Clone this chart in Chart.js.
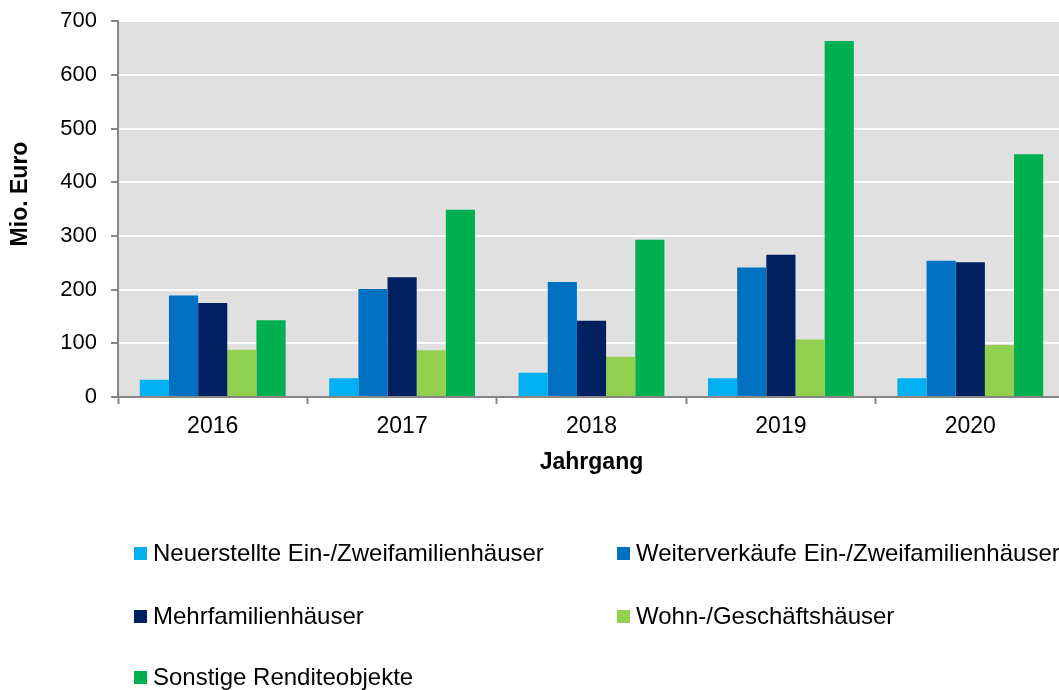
<!DOCTYPE html>
<html>
<head>
<meta charset="utf-8">
<script src="https://cdn.jsdelivr.net/npm/chart.js@4/dist/chart.umd.min.js"></script>
<style>
    html, body { margin: 0; padding: 0; background: #fff; overflow: hidden; }
    body { width: 1059px; height: 690px; position: relative; font-family: "Liberation Sans", Arial, sans-serif; }
    #wrap { position: absolute; left: 0; top: -6px; width: 1065px; height: 496px; }
    #legend { position: absolute; left: 0; top: 0; width: 1059px; height: 690px; pointer-events: none; }
    .item { position: absolute; font-size: 24px; color: #000; white-space: nowrap; line-height: 28px; }
    .item i { display: inline-block; width: 13px; height: 13px; margin-right: 6px; vertical-align: 1px; }
    #ytitle { position: absolute; left: 19px; top: 194px; font-size: 23px; font-weight: bold; color: #000;
              white-space: nowrap; transform: translate(-50%, -50%) rotate(-90deg); line-height: 26px; }
</style>
</head>
<body>
<div id="wrap"><canvas id="kaufChart"></canvas></div>
<div id="ytitle">Mio. Euro</div>
<div id="legend"></div>
<script>
// Daten
const jahre = ['2016', '2017', '2018', '2019', '2020'];
const neuerstellteEZFH = [32, 35, 45, 35, 35];
const weiterverkaufEZFH = [189, 201, 214, 241, 254];
const mehrfamilienhaeuser = [175, 223, 142, 265, 251];
const wohnGeschaeft = [88, 87, 75, 107, 97];
const sonstigeRendite = [143, 349, 293, 663, 452];

const serien = [
    { label: 'Neuerstellte Ein-/Zweifamilienhäuser', data: neuerstellteEZFH, color: '#00b0f0' },
    { label: 'Weiterverkäufe Ein-/Zweifamilienhäuser', data: weiterverkaufEZFH, color: '#0070c0' },
    { label: 'Mehrfamilienhäuser', data: mehrfamilienhaeuser, color: '#002060' },
    { label: 'Wohn-/Geschäftshäuser', data: wohnGeschaeft, color: '#92d050' },
    { label: 'Sonstige Renditeobjekte', data: sonstigeRendite, color: '#00b050' }
];

const FONT = "'Liberation Sans', Arial, sans-serif";
const GRAU = '#868686';

// grauer Hintergrund der Zeichenfläche
const plotBg = {
    id: 'plotBg',
    beforeDraw(chart) {
        const a = chart.chartArea;
        const ctx = chart.ctx;
        ctx.save();
        ctx.fillStyle = '#e0e0e0';
        ctx.fillRect(a.left, a.top, a.right - a.left, a.bottom - a.top);
        ctx.restore();
    }
};

const canvas = document.getElementById('kaufChart');
canvas.width = 1065;
canvas.height = 496;

const chart = new Chart(canvas.getContext('2d'), {
    type: 'bar',
    data: {
        labels: jahre,
        datasets: serien.map(s => ({
            label: s.label,
            data: s.data,
            backgroundColor: s.color,
            borderWidth: 0,
            categoryPercentage: 0.77,
            barPercentage: 1.0
        }))
    },
    options: {
        responsive: false,
        animation: false,
        layout: { padding: { top: 0, right: 0, left: 0, bottom: 0 } },
        plugins: {
            legend: { display: false },
            tooltip: { enabled: false }
        },
        scales: {
            x: {
                offset: true,
                grid: {
                    offset: true,
                    drawOnChartArea: false,
                    drawTicks: true,
                    tickLength: 7,
                    tickColor: GRAU,
                    tickWidth: 2
                },
                border: { color: GRAU, width: 2 },
                ticks: {
                    color: '#000',
                    font: { family: FONT, size: 23 },
                    padding: 9
                },
                title: {
                    display: true,
                    text: 'Jahrgang',
                    color: '#000',
                    font: { family: FONT, size: 23, weight: 'bold' },
                    padding: { top: 0, bottom: 14 }
                },
                afterFit(scale) { scale.height = 93; }
            },
            y: {
                min: 0,
                max: 700,
                ticks: {
                    stepSize: 100,
                    color: '#000',
                    font: { family: FONT, size: 22 },
                    padding: 14
                },
                grid: {
                    color: '#ffffff',
                    lineWidth: 2,
                    drawTicks: true,
                    tickLength: 7,
                    tickColor: GRAU,
                    tickWidth: 2
                },
                border: { color: GRAU, width: 2 },
                afterFit(scale) { scale.width = 118; }
            }
        }
    },
    plugins: [plotBg]
});

// Legende in zwei Spalten
const legendPos = [
    [134, 539], [617, 539],
    [134, 602], [617, 602],
    [134, 663]
];
const legend = document.getElementById('legend');
chart.data.datasets.forEach((ds, i) => {
    const div = document.createElement('div');
    div.className = 'item';
    div.style.left = legendPos[i][0] + 'px';
    div.style.top = legendPos[i][1] + 'px';
    div.innerHTML = '<i style="background:' + ds.backgroundColor + '"></i>' + ds.label;
    legend.appendChild(div);
});
</script>
</body>
</html>
